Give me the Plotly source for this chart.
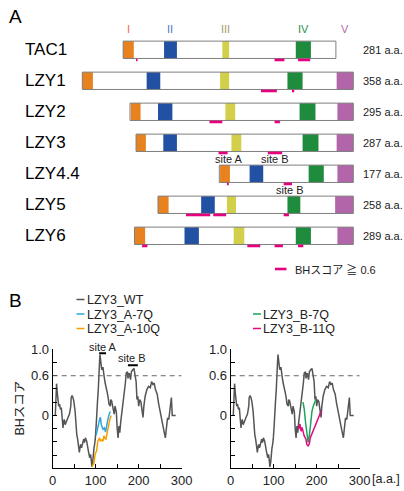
import plotly.graph_objects as go

W, H = 404, 491
FONT = "Liberation Sans, Arial, Noto Sans CJK JP, sans-serif"

# ---------------- Part A data ----------------
proteins = ["TAC1", "LZY1", "LZY2", "LZY3", "LZY4.4", "LZY5", "LZY6"]
lengths = [281, 358, 295, 287, 177, 258, 289]
offsets = [54, 0, 63, 71, 181, 100, 69]          # alignment offset (aa)
domain_names = ["I", "II", "III", "IV", "V"]
dom_I = [(0, 14), (0, 14), (1, 14), (0, 13), (1, 14), (0, 14), (0, 14)]
dom_II = [(54, 71), (85, 103), (37, 56), (36, 54), (40, 58), (57, 75), (66, 85)]
dom_III = [(131, 140), (182, 194), (126, 139), (126, 139), None, (91, 103), (131, 145)]
dom_IV = [(228, 248), (271, 291), (224, 245), (220, 241), (118, 138), (171, 188), (213, 233)]
dom_V = [None, (336, 358), (274, 295), (265, 287), (156, 177), (234, 258), (268, 289)]
bh_segments = [
    [(17, 19), (200, 213), (231, 247)],
    [(236, 257), (277, 280)],
    [(105, 122), (191, 198)],
    [(109, 121), (174, 193)],
    [(10, 12.5), (85, 96)],
    [(37, 69), (73, 90), (166, 173)],
    [(10, 17), (149, 166), (185, 196), (216, 223)],
]
site_labels_A = [("site A", 3, 123), ("site B", 3, 183), ("site B", 4, 93)]

# ---------------- Part B data ----------------
wt_aa = [6, 9, 11, 14, 16, 18, 20, 22, 24, 25, 27, 29, 32, 35, 37, 39, 42, 43, 45, 47,
         49, 52, 53, 56, 58, 60, 62, 63, 65, 67, 69, 72, 74, 76, 79, 81, 83, 86, 88, 90,
         91, 93, 94, 96, 97, 99, 101, 103, 104, 106, 107, 109, 110, 112, 114, 115, 117, 118, 120, 122,
         125, 127, 129, 131, 134, 135, 137, 139, 142, 143, 145, 148, 150, 152, 154, 156, 158, 161, 165, 169,
         171, 174, 175, 178, 181, 183, 186, 189, 192, 194, 196, 198, 200, 202, 205, 208, 210, 212, 215, 219,
         223, 227, 230, 233, 236, 239, 243, 246, 250, 254, 258, 262, 264, 267, 270, 273, 276, 278, 286]
wt_bh = [0.00, 0.48, 0.32, 0.14, 0.17, 0.09, 0.12, -0.06, -0.19, -0.11, -0.06, -0.14, -0.08, -0.04, -0.01, 0.02, 0.14, 0.27, 0.30, 0.27,
         0.22, 0.07, -0.06, -0.29, -0.36, -0.46, -0.56, -0.51, -0.44, -0.49, -0.41, -0.36, -0.41, -0.34, -0.39, -0.49, -0.54, -0.64, -0.59, -0.69,
         -0.78, -0.71, -0.59, -0.49, -0.46, -0.36, -0.16, -0.01, 0.19, 0.39, 0.64, 0.82, 0.92, 0.84, 0.69, 0.72, 0.72, 0.64, 0.57, 0.49,
         0.42, 0.34, 0.27, 0.17, 0.14, 0.24, 0.22, 0.14, 0.07, 0.02, 0.14, 0.05, -0.20, -0.34, -0.16, -0.26, -0.11, 0.04, 0.29, 0.49,
         0.64, 0.66, 0.56, 0.64, 0.54, 0.66, 0.69, 0.71, 0.59, 0.51, 0.24, 0.29, 0.14, 0.24, 0.21, 0.04, -0.03, 0.14, 0.29, 0.39,
         0.44, 0.42, 0.51, 0.47, 0.49, 0.39, 0.32, 0.19, 0.04, -0.06, -0.21, -0.34, -0.21, -0.04, -0.06, 0.14, 0.27, 0.00, 0.00]
a7q_aa = [101, 104, 107, 109, 111, 113, 117, 120, 123, 125, 128, 131, 134]
a7q_bh = [-0.30, -0.20, -0.10, -0.06, -0.03, -0.14, -0.21, -0.19, -0.25, -0.16, -0.07, 0.01, 0.06]
a10q_aa = [91, 94, 96, 99, 102, 105, 109, 111, 114, 117, 119, 122, 124, 127, 130, 133, 136]
a10q_bh = [-0.78, -0.74, -0.72, -0.58, -0.54, -0.39, -0.34, -0.39, -0.37, -0.39, -0.31, -0.35, -0.36, -0.25, -0.14, -0.06, 0.00]
b7q_aa = [168, 171, 174, 177, 180, 183, 186, 189, 192, 195, 198]
b7q_bh = [0.20, 0.10, -0.10, -0.31, -0.41, -0.30, -0.11, 0.06, 0.14, 0.18, 0.24]
b11q_aa = [158, 161, 164, 166, 169, 171, 175, 177, 180, 183, 185, 189, 192, 195, 199, 202, 206, 210]
b11q_bh = [-0.21, -0.13, -0.24, -0.18, -0.26, -0.31, -0.36, -0.44, -0.46, -0.43, -0.34, -0.28, -0.23, -0.18, -0.12, -0.08, 0.00, 0.06]
site_A_range = (108, 124)
site_B_range = (175, 198)
bh_threshold = 0.6
x_ticks = [0, 50, 100, 150, 200, 250, 300]
x_ticktext = ["0", "", "100", "", "200", "", "300"]
y_ticks = [-0.8, -0.6, -0.4, -0.2, 0.0, 0.2, 0.4, 0.6, 0.8, 1.0]
y_ticktext = ["", "", "", "", "0", "", "", "0.6", "", "1.0"]

assert len(wt_aa) == len(wt_bh)

# ---------------- styles ----------------
dom_colors = ["#E8821E", "#2251A3", "#D2CF4A", "#1F8B3D", "#B265A8"]
dom_label_colors = ["#E8703A", "#4A7CC4", "#A59E6E", "#2A8F45", "#B365AA"]
MAGENTA = "#E6007E"
C_WT, C_A7, C_A10, C_B7, C_B11 = "#555555", "#2AA7E0", "#F5A000", "#19A55A", "#E5097F"


def px(x):
    return x / W


def py(y):
    return 1 - y / H


fig = go.Figure()
shapes = []
annotations = []

# ---------- Part A ----------
HALF = 0.28
all_domains = [dom_I, dom_II, dom_III, dom_IV, dom_V]
for i, name in enumerate(proteins):
    off = offsets[i]
    shapes.append(dict(type="rect", xref="x", yref="y", x0=off, x1=off + lengths[i],
                       y0=i - HALF, y1=i + HALF, fillcolor="white", line_width=0, layer="below"))
    for dl, col in zip(all_domains, dom_colors):
        d = dl[i]
        if d is None:
            continue
        shapes.append(dict(type="rect", xref="x", yref="y", x0=off + d[0], x1=off + d[1],
                           y0=i - HALF, y1=i + HALF, fillcolor=col, line_width=0))
    shapes.append(dict(type="rect", xref="x", yref="y", x0=off, x1=off + lengths[i],
                       y0=i - HALF, y1=i + HALF, fillcolor="rgba(0,0,0,0)",
                       line=dict(color="#7f7f7f", width=1)))
    for s in bh_segments[i]:
        shapes.append(dict(type="rect", xref="x", yref="y", x0=off + s[0], x1=off + s[1],
                           y0=i + 0.285, y1=i + 0.37, fillcolor=MAGENTA, line_width=0))
    annotations.append(dict(text=name, xref="paper", yref="y", x=px(23), y=i, xanchor="left",
                            yanchor="middle", showarrow=False, font=dict(size=17, color="black")))
    annotations.append(dict(text=f"{lengths[i]} a.a.", xref="paper", yref="y", x=px(361), y=i,
                            xanchor="left", yanchor="middle", showarrow=False,
                            font=dict(size=11, color="#222")))

# domain labels above TAC1 (I-IV) and LZY1 (V)
for k, dname in enumerate(domain_names):
    ref = 0 if all_domains[k][0] is not None else 1
    d = all_domains[k][ref]
    annotations.append(dict(text=dname, xref="x", yref="y", x=offsets[ref] + (d[0] + d[1]) / 2,
                            y=-0.66, showarrow=False, xanchor="center", yanchor="middle",
                            font=dict(size=11, color=dom_label_colors[k])))

for txt, row, pos in site_labels_A:
    annotations.append(dict(text=txt, xref="x", yref="y", x=offsets[row] + pos, y=row + 0.53,
                            showarrow=False, xanchor="center", yanchor="middle",
                            font=dict(size=11, color="#222")))

# legend of part A
shapes.append(dict(type="rect", xref="paper", yref="paper", x0=px(275), x1=px(286.5),
                   y0=py(270.3), y1=py(267.7), fillcolor=MAGENTA, line_width=0))
annotations.append(dict(text="BHスコア ≧ 0.6", xref="paper", yref="paper", x=px(293), y=py(269),
                        xanchor="left", yanchor="middle", showarrow=False,
                        font=dict(size=11, color="#222")))

annotations.append(dict(text="A", xref="paper", yref="paper", x=px(7), y=py(16.5), xanchor="left",
                        yanchor="middle", showarrow=False, font=dict(size=19, color="black")))
annotations.append(dict(text="B", xref="paper", yref="paper", x=px(7), y=py(300.5), xanchor="left",
                        yanchor="middle", showarrow=False, font=dict(size=19, color="black")))

# ---------- Part B ----------
for xa, ya in [("x2", "y2"), ("x3", "y3")]:
    fig.add_trace(go.Scatter(x=wt_aa, y=wt_bh, mode="lines", line=dict(color=C_WT, width=1.5),
                             xaxis=xa, yaxis=ya, showlegend=False, name="LZY3_WT"))
    shapes.append(dict(type="line", xref=xa, yref=ya, x0=0, x1=300, y0=bh_threshold, y1=bh_threshold,
                       line=dict(color="#666", width=1, dash="5px,4px")))

fig.add_trace(go.Scatter(x=a7q_aa, y=a7q_bh, mode="lines", line=dict(color=C_A7, width=1.5),
                         xaxis="x2", yaxis="y2", showlegend=False, name="LZY3_A-7Q"))
fig.add_trace(go.Scatter(x=a10q_aa, y=a10q_bh, mode="lines", line=dict(color=C_A10, width=1.5),
                         xaxis="x2", yaxis="y2", showlegend=False, name="LZY3_A-10Q"))
fig.add_trace(go.Scatter(x=b7q_aa, y=b7q_bh, mode="lines", line=dict(color=C_B7, width=1.5),
                         xaxis="x3", yaxis="y3", showlegend=False, name="LZY3_B-7Q"))
fig.add_trace(go.Scatter(x=b11q_aa, y=b11q_bh, mode="lines", line=dict(color=C_B11, width=1.5),
                         xaxis="x3", yaxis="y3", showlegend=False, name="LZY3_B-11Q"))

# site bars
shapes.append(dict(type="line", xref="x2", yref="y2", x0=site_A_range[0], x1=site_A_range[1],
                   y0=0.94, y1=0.94, line=dict(color="black", width=2)))
shapes.append(dict(type="line", xref="x2", yref="y2", x0=site_B_range[0], x1=site_B_range[1],
                   y0=0.76, y1=0.76, line=dict(color="black", width=2)))
annotations.append(dict(text="site A", xref="x2", yref="paper", x=sum(site_A_range) / 2,
                        y=py(346.5), yanchor="middle", showarrow=False,
                        font=dict(size=11, color="#222")))
annotations.append(dict(text="site B", xref="x2", yref="y2", x=sum(site_B_range) / 2 - 2, y=0.87,
                        showarrow=False, font=dict(size=11, color="#222")))

# legends (coloured dash + text)
leg_left = [("LZY3_WT", C_WT, 300), ("LZY3_A-7Q", C_A7, 314.5), ("LZY3_A-10Q", C_A10, 329)]
leg_right = [("LZY3_B-7Q", C_B7, 314.5), ("LZY3_B-11Q", C_B11, 329)]
for items, x0 in [(leg_left, 76.5), (leg_right, 253)]:
    for label, col, yy in items:
        shapes.append(dict(type="line", xref="paper", yref="paper", x0=px(x0), x1=px(x0 + 8),
                           y0=py(yy - 0.5), y1=py(yy - 0.5), line=dict(color=col, width=1.5)))
        annotations.append(dict(text=label, xref="paper", yref="paper", x=px(x0 + 9), y=py(yy),
                                xanchor="left", yanchor="middle", showarrow=False, borderpad=0,
                                font=dict(size=12.5, color="#222")))

annotations.append(dict(text="BHスコア", xref="paper", yref="paper", x=px(19.5), y=py(408),
                        textangle=-90, showarrow=False, xanchor="center", yanchor="middle",
                        font=dict(size=12.5, color="#222")))
annotations.append(dict(text="[a.a.]", xref="paper", yref="paper", x=px(371), y=py(479),
                        xanchor="left", yanchor="middle", showarrow=False, borderpad=0,
                        font=dict(size=12.5, color="#222")))

xcommon = dict(range=[0, 300], showline=True, linecolor="black", linewidth=1, ticks="inside",
               ticklen=4, tickcolor="black", tickvals=x_ticks, ticktext=x_ticktext,
               showgrid=False, zeroline=False, tickfont=dict(size=13, color="#222"),
               fixedrange=True, automargin=False)
ycommon = dict(range=[-0.8, 1.0], showline=True, linecolor="black", linewidth=1, ticks="inside",
               ticklen=4, tickcolor="black", tickvals=y_ticks, ticktext=y_ticktext,
               showgrid=False, zeroline=False, tickfont=dict(size=13, color="#222"),
               fixedrange=True, automargin=False)
ydom = [py(468.3), py(349.3)]

fig.update_layout(
    template="none",
    width=W, height=H, margin=dict(l=0, r=0, t=0, b=0, pad=0, autoexpand=False),
    paper_bgcolor="white", plot_bgcolor="rgba(0,0,0,0)",
    font=dict(family=FONT, color="#222"),
    showlegend=False,
    xaxis=dict(domain=[0, 1], range=[-82.3 / 0.757, (W - 82.3) / 0.757], visible=False,
               fixedrange=True, automargin=False),
    yaxis=dict(domain=[0, 1], range=[(H - 49.8) / 31, -49.8 / 31], visible=False,
               fixedrange=True, automargin=False),
    xaxis2=dict(domain=[px(52.7), px(181.7)], anchor="y2", **xcommon),
    yaxis2=dict(domain=ydom, anchor="x2", **ycommon),
    xaxis3=dict(domain=[px(230.7), px(359.7)], anchor="y3", **xcommon),
    yaxis3=dict(domain=ydom, anchor="x3", **ycommon),
    shapes=shapes,
    annotations=annotations,
)

fig.write_html("out.html", config=dict(displayModeBar=False),
               post_script="document.body.style.margin='0';document.body.style.overflow='hidden';")
